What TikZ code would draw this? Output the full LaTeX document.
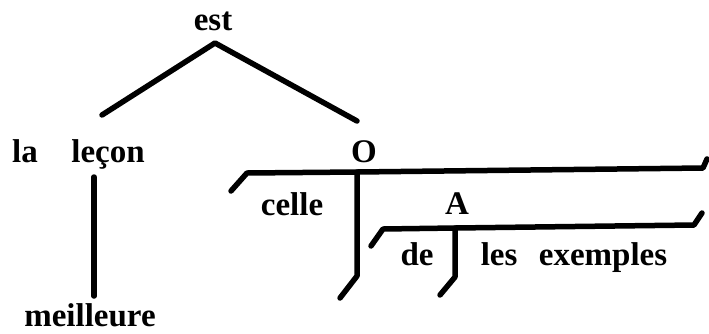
\documentclass[tikz,border=0pt]{standalone}
\usepackage{fontspec}
\setmainfont{Liberation Serif}
\begin{document}
\begin{tikzpicture}[x=1pt,y=-1pt,
  word/.style={anchor=base,inner sep=0pt,font=\fontsize{33}{36}\selectfont\bfseries},
  stem/.style={line width=5.5pt,line cap=round,line join=round}]
\useasboundingbox (0,0) rectangle (709,333);
% words
\node[word] (est) at (213,30) {est};
\node[word] (la) at (25,162) {la};
\node[word] (lecon) at (108,162) {leçon};
\node[word] (meill) at (90,326) {meilleure};
\node[word] (O) at (364,162) {O};
\node[word] (celle) at (292,215) {celle};
\node[word] (A) at (457,214) {A};
\node[word] (de) at (417,265) {de};
\node[word] (exemples) at (574,265) {les\hspace{0.65em}exemples};
% coordinates
\coordinate (apex) at (215,43);
\coordinate (lft) at (102,115);
\coordinate (rgt) at (357,121);
\coordinate (lv1) at (94,177);
\coordinate (lv2) at (94,296);
\coordinate (o1) at (231,191);
\coordinate (o2) at (247,173);
\coordinate (o3) at (357,172);
\coordinate (o4) at (703,168);
\coordinate (o5) at (707,159);
\coordinate (ov) at (357,276);
\coordinate (ovt) at (340,298);
\coordinate (a1) at (371,246);
\coordinate (a2) at (383,229);
\coordinate (a3) at (455,228);
\coordinate (a4) at (694,225);
\coordinate (a5) at (702,213);
\coordinate (av) at (455,277);
\coordinate (avt) at (440,295);
% lines
\draw[stem] (lft) -- (apex) -- (rgt);
\draw[stem] (lv1) -- (lv2);
\draw[stem] (o1) -- (o2) -- (o3) -- (o4) -- (o5);
\draw[stem] (o3) -- (ov) -- (ovt);
\draw[stem] (a1) -- (a2) -- (a3) -- (a4) -- (a5);
\draw[stem] (a3) -- (av) -- (avt);
\end{tikzpicture}
\end{document}
